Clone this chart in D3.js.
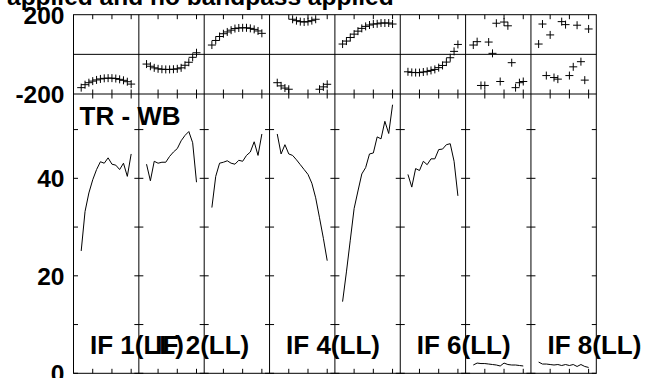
<!DOCTYPE html>
<html><head><meta charset="utf-8">
<script src="https://cdn.jsdelivr.net/npm/d3@7"></script>
<style>
html,body{margin:0;padding:0;background:#fff;}
svg{display:block;}
text{font-family:"Liberation Sans",Arial,Helvetica,sans-serif;font-weight:bold;fill:#000;}
</style></head>
<body>
<svg id="chart" width="645" height="378"></svg>
<script>
// ---- data ----
const title = "applied and no bandpass applied";
const baselineLabel = "TR - WB";
const ifNames = ["IF 1(LL)","IF 2(LL)","IF 3(LL)","IF 4(LL)","IF 5(LL)","IF 6(LL)","IF 7(LL)","IF 8(LL)"];
const labelledIFs = [0, 1, 3, 5, 7];
const channels = [2,3,4,5,6,7,8,9,10,11,12,13,14,15];
const channelTicks = [5, 10, 15];
const phaseTickLabels = [200, -200];
const ampTicks = [0, 10, 20, 30, 40, 50];
const ampTickLabels = [0, 20, 40];

const phase1 = [-168,-153,-143,-135,-129,-124,-121,-120,-120,-122,-126,-131,-138,-150];
const phase2 = [-49,-60,-68,-73,-75,-76,-76,-75,-73,-68,-55,-40,-15,8];
const phase3 = [47,70,90,104,113,122,130,133,134,134,131,126,118,106];
const phase4 = [-143,-159,-170,-176,177,170,165,163,165,170,177,-176,-164,-151];
const phase5 = [52,67,85,102,117,131,141,148,153,154,158,158,158,153];
const phase6 = [-88,-91,-92,-92,-89,-86,-81,-76,-67,-56,-39,-17,15,50];
const phase7 = [47,64,-157,-157,62,5,157,-137,163,144,-42,-168,-143,-137];
const phase8 = [52,153,-107,98,-117,-125,165,150,-107,-63,147,-37,-130,128];

const amp1 = [25.1,33.2,37.0,39.7,41.8,43.4,43.1,44.2,42.9,42.7,41.8,43.1,40.4,45.0];
const amp2 = [42.9,39.5,43.5,43.1,43.3,43.3,44.5,45.4,46.1,47.7,48.8,49.6,47.3,39.2];
const amp3 = [34.0,40.4,43.1,43.3,43.6,43.1,42.9,43.7,43.5,44.7,45.4,47.5,44.7,49.1];
const amp4 = [49.1,45.0,46.9,45.0,44.7,43.8,42.8,41.8,40.8,39.0,36.0,31.9,27.7,23.1];
const amp5 = [14.7,20.8,27.3,33.8,37.4,40.9,42.2,45.0,45.2,48.5,48.1,51.7,49.2,55.1];
const amp6 = [40.8,38.2,42.0,41.6,43.5,42.8,44.0,44.0,45.9,46.0,46.9,47.1,43.5,36.4];
const amp7 = [1.7,2.1,2.0,2.0,1.9,1.8,1.7,1.5,2.1,1.8,1.7,1.7,1.6,1.5];
const amp8 = [2.3,1.9,1.9,1.8,1.7,1.8,1.6,1.8,1.6,1.8,1.4,1.8,1.4,1.2];

const phases = [phase1,phase2,phase3,phase4,phase5,phase6,phase7,phase8];
const amps = [amp1,amp2,amp3,amp4,amp5,amp6,amp7,amp8];

// ---- layout ----
const left = 73.5, right = 596.3;
const phTop = 14.7, phBot = 94, ampBot = 373.3;
const nIF = ifNames.length;

const svg = d3.select("#chart");
const panelX = d3.scaleLinear().domain([0, nIF]).range([left, right]);
const pw = panelX(1) - panelX(0);
const chanX = d3.scaleLinear().domain([0, 17]).range([0, pw]);
const yPh = d3.scaleLinear().domain([-200, 200]).range([phBot, phTop]);
const yAmp = d3.scaleLinear().domain([0, 57.3]).range([ampBot, phBot]);

const g = svg.append("g");
const ink = "#000";
const tickLen = 4.5;

// title (clipped at top)
svg.append("text").attr("x", 7).attr("y", 5).attr("font-size", 24.5).text(title);

// frames
g.append("rect").attr("x", left).attr("y", phTop).attr("width", right-left).attr("height", ampBot-phTop)
  .attr("fill","none").attr("stroke",ink).attr("stroke-width",1);
g.append("line").attr("x1",left).attr("x2",right).attr("y1",phBot).attr("y2",phBot).attr("stroke",ink);
g.append("line").attr("x1",left).attr("x2",right).attr("y1",yPh(0)).attr("y2",yPh(0)).attr("stroke",ink);

for (let i = 1; i < nIF; i++) {
  g.append("line").attr("x1",panelX(i)).attr("x2",panelX(i)).attr("y1",phTop).attr("y2",ampBot).attr("stroke",ink);
}

// channel ticks
for (let i = 0; i < nIF; i++) {
  const x0 = panelX(i);
  channelTicks.forEach(c => {
    const x = x0 + chanX(c);
    [[phTop, phTop+tickLen],[phBot-tickLen, phBot+tickLen],[ampBot-tickLen, ampBot]].forEach(([a,b]) => {
      g.append("line").attr("x1",x).attr("x2",x).attr("y1",a).attr("y2",b).attr("stroke",ink);
    });
  });
}

// amplitude ticks
ampTicks.forEach(v => {
  const y = yAmp(v);
  for (let i = 0; i <= nIF; i++) {
    const x = panelX(i);
    const x1 = i === 0 ? x : x - tickLen;
    const x2 = i === nIF ? x : x + tickLen;
    g.append("line").attr("x1",x1).attr("x2",x2).attr("y1",y).attr("y2",y).attr("stroke",ink);
  }
});

// tick labels
phaseTickLabels.forEach(v => {
  svg.append("text").attr("x",64.5).attr("y",yPh(v)).attr("dy","0.36em").attr("text-anchor","end")
    .attr("font-size",24.5).text(v);
});
ampTickLabels.forEach(v => {
  svg.append("text").attr("x",64.5).attr("y",yAmp(v)).attr("dy","0.36em").attr("text-anchor","end")
    .attr("font-size",24.5).text(v);
});

// phase crosses
const cs = 4;
phases.forEach((arr, i) => {
  const x0 = panelX(i);
  arr.forEach((p, k) => {
    const x = x0 + chanX(channels[k]), y = yPh(p);
    g.append("path").attr("d", `M${x-cs},${y}H${x+cs}M${x},${y-cs}V${y+cs}`)
      .attr("stroke",ink).attr("stroke-width",1).attr("fill","none");
  });
});

// amplitude lines
amps.forEach((arr, i) => {
  const x0 = panelX(i);
  const line = d3.line().x((d,k) => x0 + chanX(channels[k])).y(d => yAmp(d));
  g.append("path").attr("d", line(arr)).attr("fill","none").attr("stroke",ink).attr("stroke-width",1);
});

// labels
svg.append("text").attr("x", 79.5).attr("y", 125).attr("font-size", 26).text(baselineLabel);
labelledIFs.forEach(i => {
  svg.append("text").attr("x", panelX(i) + 16.5).attr("y", 354).attr("font-size", 26).text(ifNames[i]);
});
</script>
</body></html>
